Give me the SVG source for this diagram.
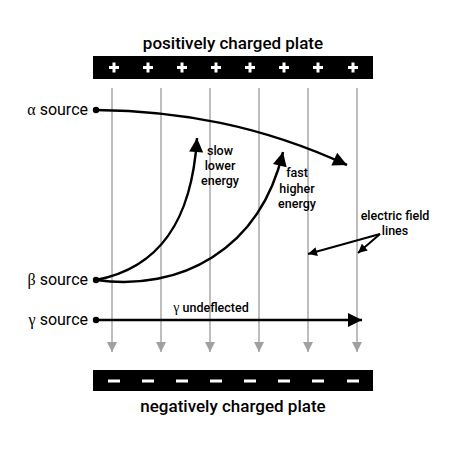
<svg xmlns="http://www.w3.org/2000/svg" width="450" height="470" viewBox="0 0 450 470">
<defs>
<marker id="ga" viewBox="0 0 10 10" refX="10" refY="5" markerWidth="10" markerHeight="10" markerUnits="userSpaceOnUse" orient="auto"><path d="M0,0 L10,5 L0,10 Z" fill="#a0a0a0"/></marker>
<marker id="ba" viewBox="0 0 10 10" refX="10" refY="5" markerWidth="17" markerHeight="14" markerUnits="userSpaceOnUse" orient="auto"><path d="M0,0 L10,5 L0,10 Z" fill="#000"/></marker>
<marker id="sa" viewBox="0 0 10 10" refX="10" refY="5" markerWidth="10" markerHeight="9" markerUnits="userSpaceOnUse" orient="auto"><path d="M0,0 L10,5 L0,10 Z" fill="#000"/></marker>
</defs>
<style>
text{font-family:Roboto,"Liberation Sans",sans-serif;fill:#000}
.big{font-size:17px;font-weight:500}
.src{font-size:16px;font-weight:400}
.sm{font-size:12.5px;font-weight:500}
.gr{font-family:"Liberation Serif","DejaVu Serif",serif;font-weight:400}
.fl{stroke:#a8a8a8;stroke-width:1.5;fill:none}
.path{stroke:#000;stroke-width:2.5;fill:none}
.sign{stroke:#fff;stroke-width:3}
</style>
<rect width="450" height="470" fill="#fff"/>
<g id="field-lines">
<line class="fl" x1="112" y1="88" x2="112" y2="352" marker-end="url(#ga)"/>
<line class="fl" x1="161" y1="88" x2="161" y2="352" marker-end="url(#ga)"/>
<line class="fl" x1="210" y1="88" x2="210" y2="352" marker-end="url(#ga)"/>
<line class="fl" x1="259" y1="88" x2="259" y2="352" marker-end="url(#ga)"/>
<line class="fl" x1="308" y1="88" x2="308" y2="352" marker-end="url(#ga)"/>
<line class="fl" x1="357" y1="88" x2="357" y2="352" marker-end="url(#ga)"/>
</g>
<g id="positive-plate">
<text class="big" x="233" y="49" text-anchor="middle">positively charged plate</text>
<rect x="93" y="56" width="280" height="23" fill="#000"/>
<g class="sign">
<path d="M109,67.5h10M114,62.5v10M143,67.5h10M148,62.5v10M177,67.5h10M182,62.5v10M211,67.5h10M216,62.5v10M245,67.5h10M250,62.5v10M279,67.5h10M284,62.5v10M313,67.5h10M318,62.5v10M348,67.5h10M353,62.5v10"/>
</g>
</g>
<g id="negative-plate">
<rect x="93" y="370" width="280" height="21" fill="#000"/>
<path class="sign" d="M108,381h12M142,381h12M176,381h12M210,381h12M244,381h12M278,381h12M312,381h12M347,381h12"/>
<text class="big" x="233" y="412" text-anchor="middle">negatively charged plate</text>
</g>
<g id="alpha-source">
<text class="src" x="88" y="115" text-anchor="end"><tspan class="gr">α</tspan> source</text>
<circle cx="96" cy="110" r="3.2" fill="#000"/>
</g>
<g id="beta-source">
<text class="src" x="88" y="285" text-anchor="end"><tspan class="gr">β</tspan> source</text>
<circle cx="96" cy="280" r="3.2" fill="#000"/>
</g>
<g id="gamma-source">
<text class="src" x="88" y="325" text-anchor="end"><tspan class="gr">γ</tspan> source</text>
<circle cx="96" cy="320" r="3.2" fill="#000"/>
</g>
<g id="connectors">
<path class="path" d="M96,110 C180,111 260,125 347,165" marker-end="url(#ba)"/>
<path class="path" d="M96,280 C160,268 192,220 197,138" marker-end="url(#ba)"/>
<path class="path" d="M96,280 C180,292 260,250 283,152" marker-end="url(#ba)"/>
<path class="path" d="M96,320 L362,320" marker-end="url(#ba)"/>
<path stroke="#000" stroke-width="2" fill="none" d="M380,234 L308,254" marker-end="url(#sa)"/>
<path stroke="#000" stroke-width="2" fill="none" d="M380,234 L358,253" marker-end="url(#sa)"/>
</g>
<g id="labels">
<text class="sm" x="220" y="155" text-anchor="middle">slow</text>
<text class="sm" x="220" y="170" text-anchor="middle">lower</text>
<text class="sm" x="220" y="185" text-anchor="middle">energy</text>
<text class="sm" x="297" y="177" text-anchor="middle">fast</text>
<text class="sm" x="297" y="193" text-anchor="middle">higher</text>
<text class="sm" x="297" y="208" text-anchor="middle">energy</text>
<text class="sm" x="395" y="220" text-anchor="middle">electric field</text>
<text class="sm" x="395" y="235" text-anchor="middle">lines</text>
<text class="sm" x="211" y="312" text-anchor="middle"><tspan class="gr" font-size="14">γ</tspan> undeflected</text>
</g>
</svg>
